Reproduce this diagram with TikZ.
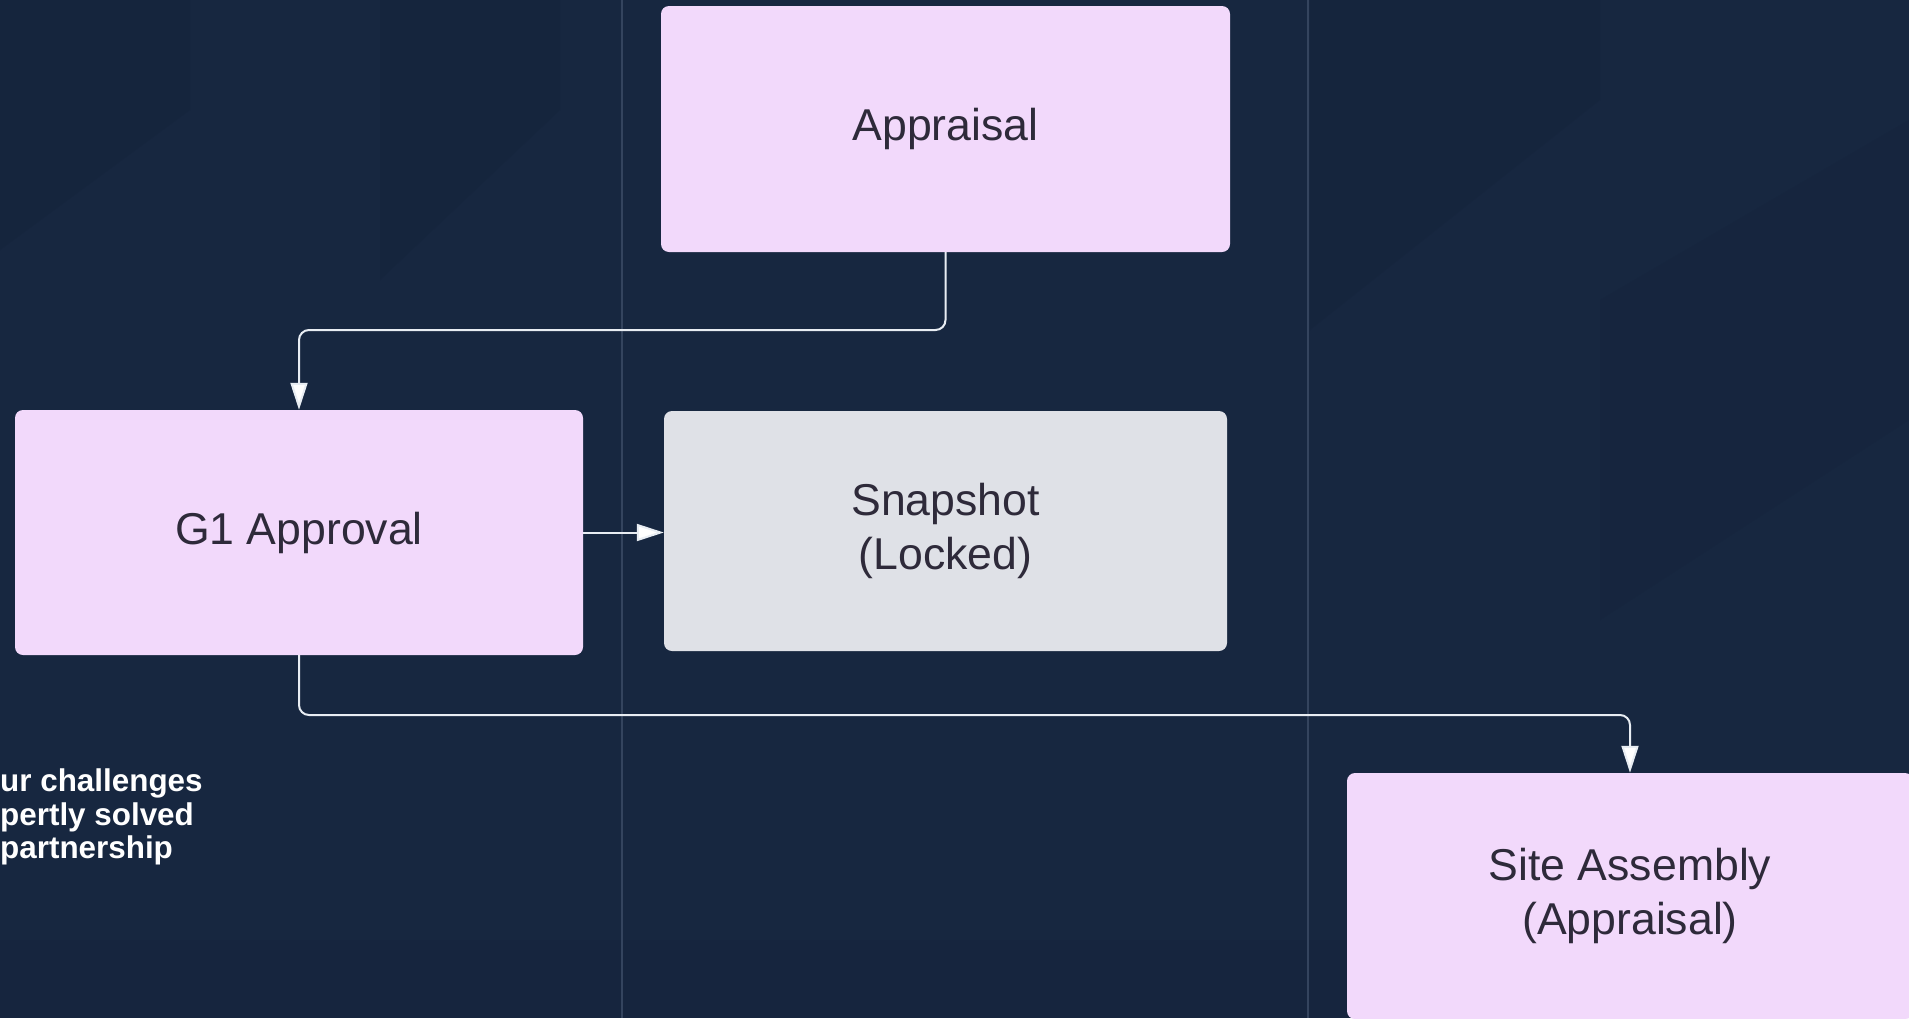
\documentclass[tikz,border=0pt]{standalone}
\usepackage{fontspec}
\setmainfont{Liberation Sans}
\usetikzlibrary{arrows.meta}
\definecolor{bgc}{HTML}{172740}
\definecolor{bgdark}{HTML}{14223A}
\definecolor{lanec}{HTML}{34445E}
\definecolor{pinkc}{HTML}{F2D9FB}
\definecolor{grayc}{HTML}{DFE1E7}
\definecolor{txtc}{HTML}{2E2A3A}
\definecolor{connc}{HTML}{E8EDF3}
\tikzset{
  boxstyle/.style={rectangle, rounded corners=8pt, inner sep=0pt, align=center,
    text=txtc, font=\fontsize{44.6}{53.5}\selectfont},
  conn/.style={draw=connc, line width=2pt, rounded corners=10pt,
    -{Triangle[length=27pt,width=17pt,fill=white]}},
  sidetext/.style={anchor=base west, inner sep=0pt, text=white,
    font=\fontsize{31.4}{34}\selectfont\bfseries}
}
\begin{document}
\begin{tikzpicture}[x=1pt,y=-1pt]
\useasboundingbox (0,0) rectangle (1909,1018);
\clip (0,0) rectangle (1909,1018);
\fill[bgc] (0,0) rectangle (1909,1018);
% subtle background facets
\fill[bgdark, opacity=0.4] (0,0) -- (190,0) -- (190,110) -- (0,250) -- cycle;
\fill[bgdark, opacity=0.4] (380,0) -- (560,0) -- (560,110) -- (380,280) -- cycle;
\fill[bgdark, opacity=0.35] (1310,0) -- (1600,0) -- (1600,100) -- (1310,330) -- cycle;
\fill[bgdark, opacity=0.3] (1600,300) -- (1909,120) -- (1909,420) -- (1600,620) -- cycle;
\fill[bgdark, opacity=0.3] (0,940) rectangle (1909,1018);
% lanes
\draw[lanec, line width=1.5pt] (622,0) -- (622,1018);
\draw[lanec, line width=1.5pt] (1308,0) -- (1308,1018);
% nodes
\node[boxstyle, fill=pinkc, minimum width=569pt, minimum height=246pt] (app) at (945.5,129) {Appraisal};
\node[boxstyle, fill=pinkc, minimum width=568pt, minimum height=245pt] (g1) at (299,532.5) {G1 Approval};
\node[boxstyle, fill=grayc, minimum width=563pt, minimum height=240pt] (snap) at (945.5,531) {Snapshot\\(Locked)};
\node[boxstyle, fill=pinkc, minimum width=566pt, minimum height=246pt] (site) at (1630,896) {Site Assembly\\(Appraisal)};
% side text
\node[sidetext] (t1) at (0,791) {ur challenges};
\node[sidetext] (t2) at (0,825) {pertly solved};
\node[sidetext] (t3) at (0,858) {partnership};
% connectors
\coordinate (h1) at (0,330);
\coordinate (h2) at (0,715);
\draw[conn] (app.south) -- (app.south |- h1) -| (g1.north);
\draw[conn, rounded corners=0pt] (g1.east) -- (snap.west |- g1.east);
\draw[conn] (g1.south) -- (g1.south |- h2) -| (site.north);
\end{tikzpicture}
\end{document}
